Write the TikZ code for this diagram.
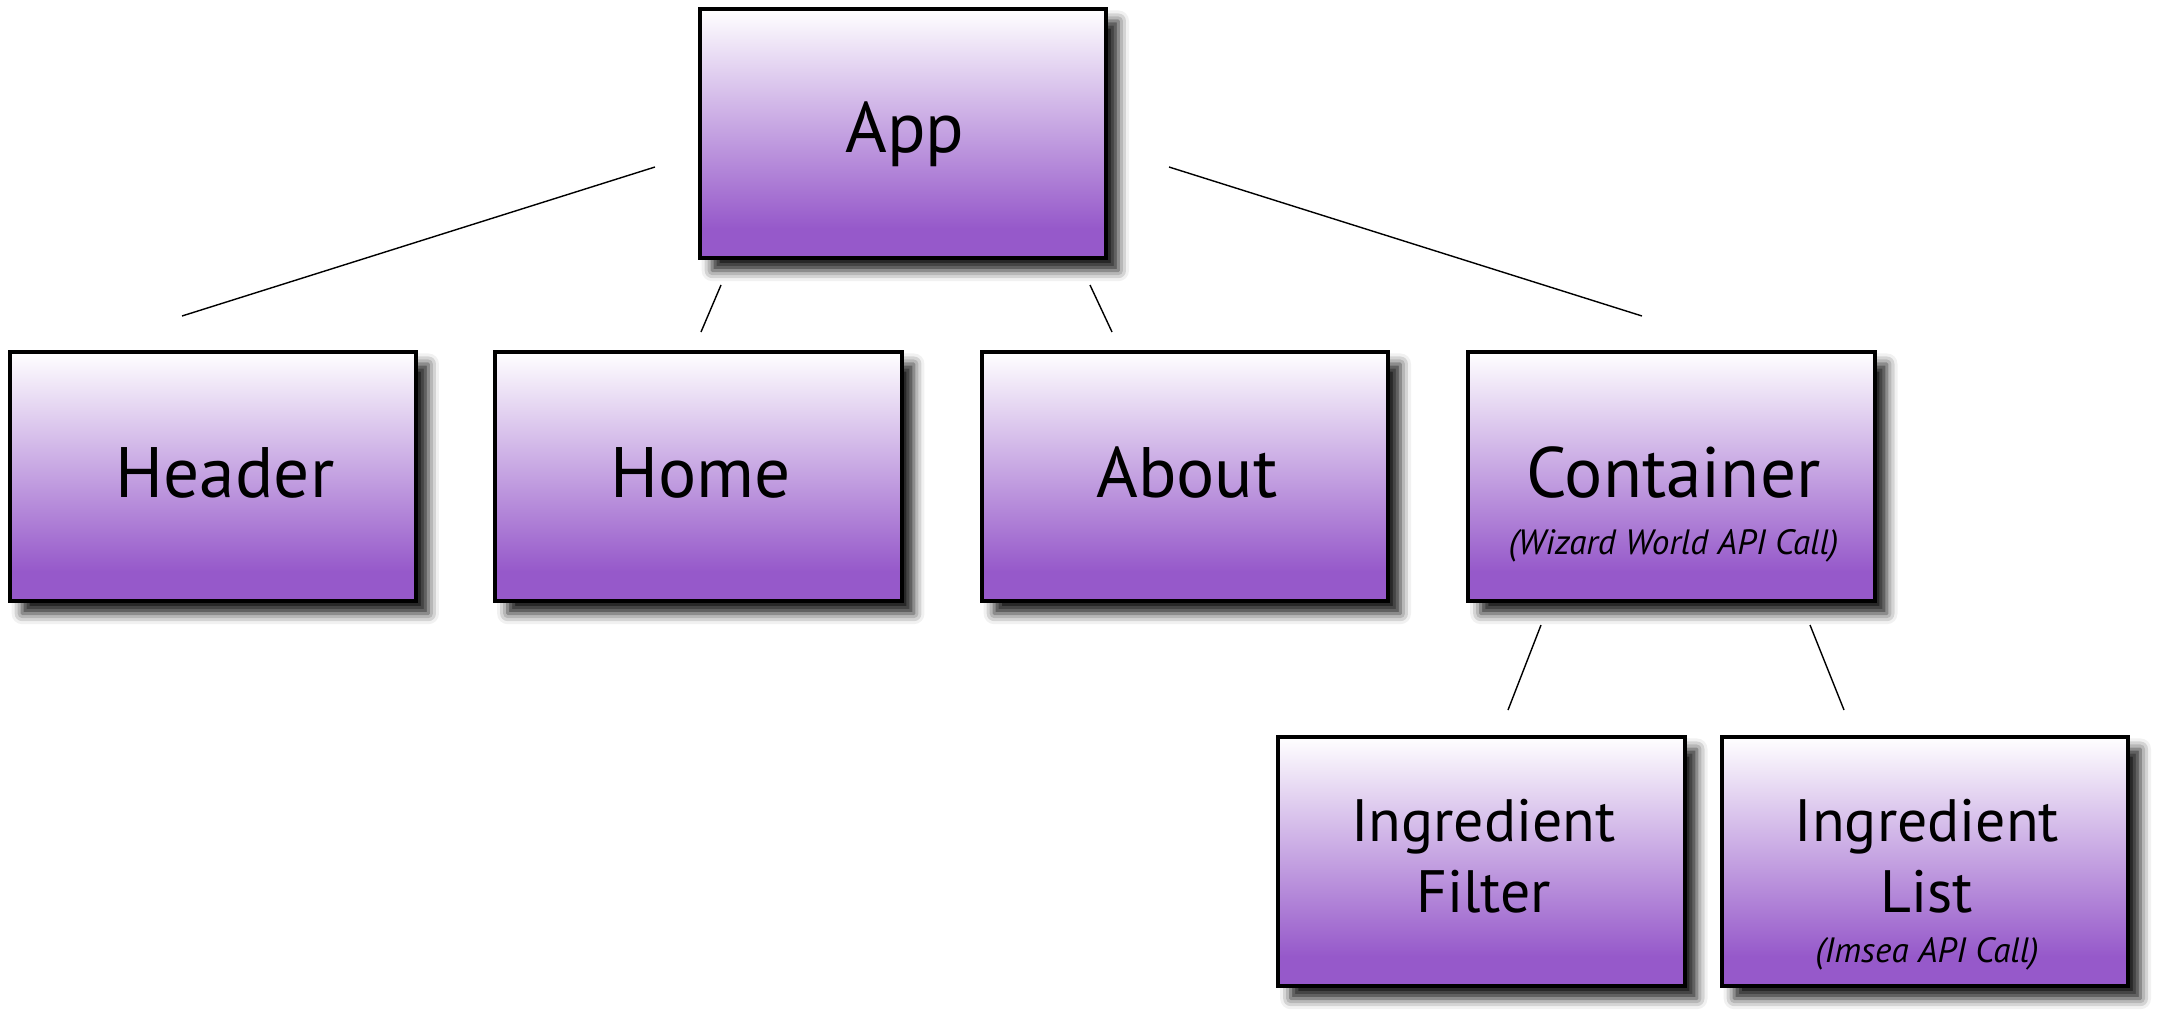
\documentclass[tikz,border=0pt]{standalone}
\usepackage{fontspec}
\setmainfont{PT Sans}
\usetikzlibrary{shadows.blur}
\definecolor{boxpurple}{RGB}{150,89,202}
\pgfdeclareverticalshading{boxshade}{100bp}{color(0bp)=(boxpurple); color(25bp)=(boxpurple); color(31bp)=(boxpurple); color(75bp)=(white); color(100bp)=(white)}
\tikzset{
  compbox/.style={draw=black, line width=1.1pt, shading=boxshade, minimum width=4.06cm, minimum height=2.495cm, inner sep=0pt,
    blur shadow={shadow xshift=3.5pt, shadow yshift=-3.5pt, shadow blur radius=3pt, shadow opacity=90}},
  maintext/.style={anchor=base, font=\fontsize{20.3}{21}\selectfont, inner sep=0pt, align=center},
  smalltext/.style={anchor=base, font=\fontsize{17}{18}\selectfont, inner sep=0pt, align=center},
  subtext/.style={anchor=base, font=\fontsize{10}{11}\selectfont\itshape, inner sep=0pt},
  link/.style={line width=0.4pt, black}
}
\begin{document}
\begin{tikzpicture}[x=0.01cm, y=-0.01cm]
\useasboundingbox (0,0) rectangle (2167,1027);
\node[compbox] (app) at (903,133.5) {};
\node[compbox] (header) at (213,476.5) {};
\node[compbox] (home) at (698.5,476.5) {};
\node[compbox] (about) at (1185,476.5) {};
\node[compbox] (container) at (1671.5,476.5) {};
\node[compbox] (filter) at (1481.5,861.5) {};
\node[compbox] (list) at (1925,861.5) {};

\node[maintext] (appT) at (905,152) {App};
\node[maintext] (headerT) at (225,497.5) {Header};
\node[maintext] (homeT) at (700.5,497.5) {Home};
\node[maintext] (aboutT) at (1187,497.5) {About};
\node[maintext] (containerT) at (1673.5,497.5) {Container};
\node[subtext] (containerS) at (1673.5,554) {(Wizard World API Call)};
\node[smalltext] (filterT1) at (1483.5,841) {Ingredient};
\node[smalltext] (filterT2) at (1483.5,912) {Filter};
\node[smalltext] (listT1) at (1927,841) {Ingredient};
\node[smalltext] (listT2) at (1927,912) {List};
\node[subtext] (listS) at (1927,962) {(Imsea API Call)};

\coordinate (a1) at (655,167);  \coordinate (h1) at (182,316);
\coordinate (a2) at (721,285);  \coordinate (m1) at (701,332);
\coordinate (a3) at (1090,285); \coordinate (b1) at (1112,332);
\coordinate (a4) at (1169,167); \coordinate (c1) at (1642,316);
\coordinate (c2) at (1541,625); \coordinate (f1) at (1508,710);
\coordinate (c3) at (1810,625); \coordinate (l1) at (1844,710);
\draw[link] (a1) -- (h1);
\draw[link] (a2) -- (m1);
\draw[link] (a3) -- (b1);
\draw[link] (a4) -- (c1);
\draw[link] (c2) -- (f1);
\draw[link] (c3) -- (l1);
\end{tikzpicture}
\end{document}
